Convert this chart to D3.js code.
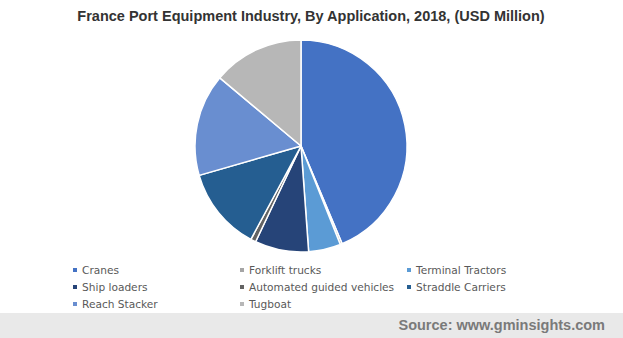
<!DOCTYPE html>
<html>
<head>
<meta charset="utf-8">
<script src="https://cdn.jsdelivr.net/npm/d3@7"></script>
<style>
  html, body { margin: 0; padding: 0; background: #fff; }
  svg { display: block; }
</style>
</head>
<body>
<svg id="chart" width="623" height="338"></svg>
<script>
// Application segments, 2018 share (USD Million, relative)
const categories = ["Cranes", "Forklift trucks", "Terminal Tractors", "Ship loaders",
  "Automated guided vehicles", "Straddle Carriers", "Reach Stacker", "Tugboat"];
const values = [43.7, 0.3, 4.9, 8.2, 0.8, 12.7, 15.6, 13.9];
const colors = ["#4472C4", "#A5A5A5", "#5B9BD5", "#264478", "#636363", "#255E91", "#698ED0", "#B7B7B7"];

const svg = d3.select("#chart");
const W = 623, H = 338;

// Title
svg.append("text")
  .attr("x", 311).attr("y", 21)
  .attr("text-anchor", "middle")
  .attr("font-family", "Liberation Sans, Arial, sans-serif")
  .attr("font-weight", "bold")
  .attr("font-size", 14.5)
  .attr("fill", "#333")
  .text("France Port Equipment Industry, By Application, 2018, (USD Million)");

// Pie
const cx = 301, cy = 146, r = 106;
const pie = d3.pie().sort(null).value(d => d);
const arc = d3.arc().innerRadius(0).outerRadius(r);
const color = d3.scaleOrdinal().domain(categories).range(colors);

svg.append("g")
  .attr("transform", `translate(${cx},${cy})`)
  .selectAll("path")
  .data(pie(values))
  .join("path")
  .attr("d", arc)
  .attr("fill", (d, i) => color(categories[i]))
  .attr("stroke", "#fff")
  .attr("stroke-width", 1.5)
  .attr("stroke-linejoin", "round");

// Legend: three columns
const colX = [75, 242, 409];
const rowY = [270, 287, 304];
const legend = svg.append("g");
categories.forEach((c, i) => {
  const x = colX[i % 3], y = rowY[Math.floor(i / 3)];
  legend.append("rect")
    .attr("x", x - 2).attr("y", y - 2)
    .attr("width", 4).attr("height", 4)
    .attr("fill", color(c));
  legend.append("text")
    .attr("x", x + 7).attr("y", y + 4)
    .attr("font-family", "DejaVu Sans, Verdana, sans-serif")
    .attr("font-size", 10.6)
    .attr("fill", "#595959")
    .text(c);
});

// Source bar
svg.append("rect")
  .attr("x", 0).attr("y", 313)
  .attr("width", W).attr("height", H - 313)
  .attr("fill", "#e9e9e9");
svg.append("text")
  .attr("x", 605).attr("y", 330)
  .attr("text-anchor", "end")
  .attr("font-family", "Liberation Sans, Arial, sans-serif")
  .attr("font-weight", "bold")
  .attr("font-size", 14.5)
  .attr("fill", "#7a7a7a")
  .text("Source: www.gminsights.com");
</script>
</body>
</html>
